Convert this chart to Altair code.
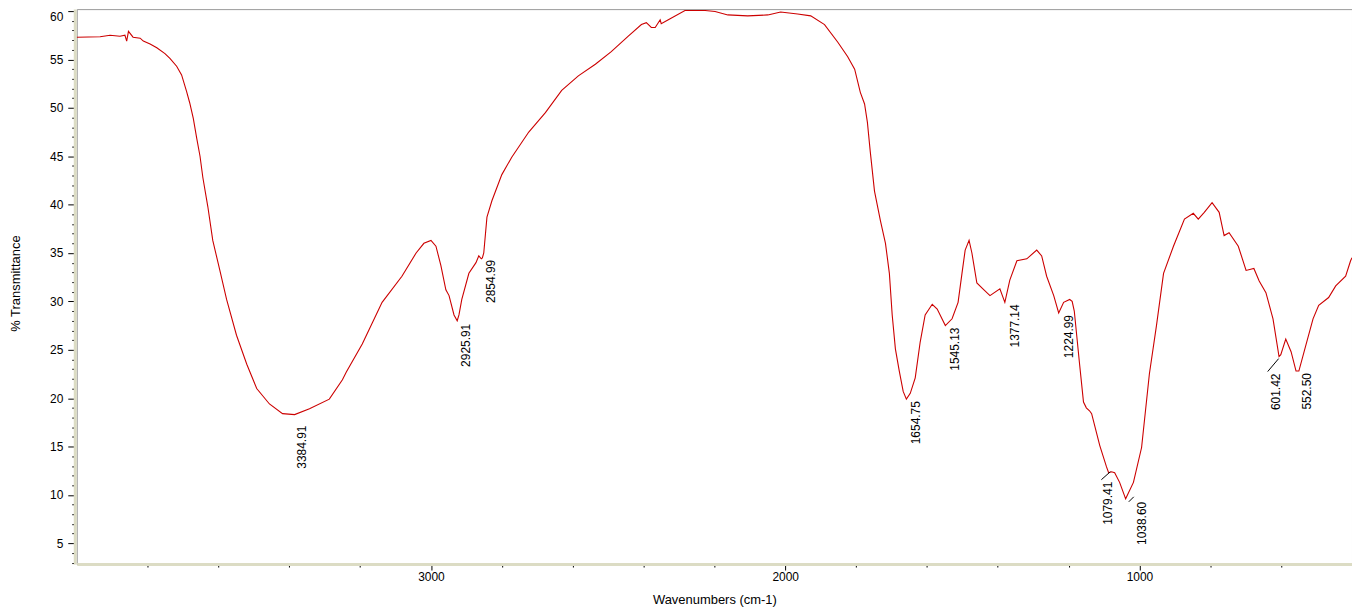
import altair as alt
import pandas as pd

# ---- spectrum ----
wavenumber = [
    4000, 3934, 3906, 3878, 3864, 3859, 3854, 3841, 3821, 3812, 3793, 3774, 3751, 3737,
    3718, 3704, 3690, 3681, 3671, 3661, 3652, 3644, 3630, 3616, 3596, 3577, 3549, 3520,
    3492, 3456, 3419, 3385, 3343, 3287, 3250, 3239, 3194, 3138, 3082, 3042, 3020, 3000,
    2986, 2972, 2958, 2949, 2935, 2926, 2921, 2913, 2893, 2873, 2865, 2858, 2855, 2851,
    2842, 2828, 2800, 2772, 2724, 2677, 2631, 2584, 2536, 2491, 2443, 2406, 2392, 2378,
    2367, 2353, 2350, 2330, 2283, 2226, 2198, 2162, 2106, 2049, 2013, 1965, 1928, 1889,
    1852, 1824, 1804, 1788, 1776, 1768, 1760, 1748, 1731, 1717, 1706, 1698, 1689, 1678,
    1667, 1658, 1647, 1633, 1619, 1605, 1585, 1571, 1548, 1529, 1512, 1501, 1492, 1481,
    1473, 1459, 1439, 1422, 1394, 1380, 1366, 1346, 1318, 1290, 1276, 1262, 1242, 1228,
    1214, 1197, 1190, 1184, 1169, 1158, 1150, 1141, 1135, 1112, 1093, 1087, 1079, 1070,
    1056, 1039, 1017, 994, 972, 952, 932, 904, 873, 848, 834, 817, 795, 775, 761, 747,
    721, 699, 677, 662, 643, 623, 606, 601, 587, 572, 558, 550, 530, 510, 494, 466, 446,
    418, 404, 400,
]
transmittance = [
    57.3, 57.35, 57.5, 57.4, 57.5, 56.9, 57.9, 57.3, 57.2, 56.9, 56.6, 56.2, 55.6, 55.1,
    54.3, 53.4, 51.7, 50.5, 48.9, 46.8, 45.0, 42.8, 39.8, 36.3, 33.2, 30.2, 26.5, 23.5,
    21.0, 19.4, 18.4, 18.3, 18.9, 19.9, 21.9, 22.7, 25.6, 29.9, 32.6, 35.0, 36.0, 36.3,
    35.7, 33.7, 31.2, 30.6, 28.6, 28.0, 28.6, 30.2, 32.9, 34.0, 34.7, 34.4, 34.5, 35.0,
    38.7, 40.4, 43.1, 44.9, 47.5, 49.5, 51.8, 53.3, 54.5, 55.8, 57.4, 58.6, 58.8, 58.3,
    58.3, 59.1, 58.7, 59.1, 60.05, 60.05, 59.95, 59.6, 59.5, 59.6, 59.9, 59.7, 59.5, 58.6,
    56.8, 55.3, 54.0, 51.6, 50.4, 48.5, 45.5, 41.4, 38.3, 36.0, 32.9, 28.6, 25.1, 22.8,
    20.7, 19.9, 20.5, 22.1, 25.8, 28.6, 29.7, 29.2, 27.5, 28.2, 29.9, 32.9, 35.3, 36.3,
    35.0, 31.9, 31.2, 30.6, 31.3, 29.9, 32.2, 34.2, 34.4, 35.3, 34.7, 32.6, 30.6, 28.8,
    29.9, 30.2, 30.0, 29.0, 23.5, 19.6, 19.0, 18.7, 18.4, 15.1, 12.9, 12.3, 12.4, 12.3,
    11.3, 9.6, 11.3, 14.9, 22.5, 27.5, 32.9, 35.7, 38.5, 39.1, 38.5, 39.2, 40.2, 39.2,
    36.8, 37.1, 35.7, 33.2, 33.4, 32.1, 30.9, 28.2, 24.3, 24.5, 26.1, 24.8, 22.8, 22.8,
    25.5, 28.2, 29.6, 30.4, 31.6, 32.6, 34.2, 34.5,
]

# ---- peak annotations ----
peak_labels = ["3384.91", "2925.91", "2854.99", "1654.75", "1545.13", "1377.14",
               "1224.99", "1079.41", "1038.60", "601.42", "552.50"]
peak_wn = [3384.91, 2925.91, 2854.99, 1654.75, 1545.13, 1377.14,
           1224.99, 1079.41, 1038.60, 601.42, 552.50]
peak_t = [18.3, 28.0, 34.5, 19.9, 27.5, 29.9, 28.8, 12.4, 9.6, 24.5, 22.8]

x_ticks = list(range(600, 4000, 200))
y_ticks = list(range(3, 61))

FONT = "Liberation Sans"
RED = "#cc0000"

spec_df = pd.DataFrame({"wn": wavenumber, "t": transmittance})
peak_df = pd.DataFrame({"wn": peak_wn, "t": peak_t, "label": peak_labels})

x_scale = alt.Scale(domain=[400, 4000], reverse=True, nice=False, zero=False)
y_scale = alt.Scale(domain=[2.86, 60.2], nice=False, zero=False)

x_axis = alt.Axis(
    values=x_ticks,
    format="d",
    labelExpr="datum.value % 1000 == 0 ? datum.label : ''",
    tickSize={"condition": {"test": "datum.value % 1000 == 0", "value": 6}, "value": 3},
    labelPadding=2,
    labelOverlap=False,
    titleY=36,
    titleBaseline="middle",
)
y_axis = alt.Axis(
    values=y_ticks,
    labelExpr="datum.value % 5 == 0 ? datum.label : ''",
    tickSize={"condition": {"test": "datum.value % 5 == 0", "value": 7}, "value": 3},
    labelPadding=5,
    labelOverlap=False,
    labelFlush=6,
    offset=2,
    titleAngle=270,
    titleAlign="center",
    titleBaseline="middle",
    titleX=-59,
    titleY=275,
)

X_ENC = alt.X("wn:Q", scale=x_scale, axis=x_axis, title="Wavenumbers (cm-1)")
Y_ENC = alt.Y("t:Q", scale=y_scale, axis=y_axis, title="% Transmittance")

line = alt.Chart(spec_df).mark_line(color=RED, strokeWidth=1.1, clip=True).encode(
    x=X_ENC, y=Y_ENC,
)


def label_layer(names, dx, dy):
    return (
        alt.Chart(peak_df)
        .transform_filter(alt.FieldOneOfPredicate(field="label", oneOf=names))
        .mark_text(angle=270, align="right", baseline="middle", dx=dx, dy=dy,
                   font=FONT, fontSize=12, color="black")
        .encode(x=X_ENC, y=Y_ENC, text="label:N")
    )


def leader(name, xo, yo, x2o, y2o):
    return (
        alt.Chart(peak_df)
        .transform_filter(alt.FieldEqualPredicate(field="label", equal=name))
        .mark_rule(color="black", strokeWidth=1, xOffset=xo, yOffset=yo,
                   x2Offset=x2o, y2Offset=y2o)
        .encode(x=X_ENC, y=Y_ENC, x2="wn:Q", y2="t:Q")
    )


labels_main = label_layer(["2854.99", "1654.75", "1545.13", "1377.14", "1224.99", "552.50"], -2, 9)
labels_a = label_layer(["2925.91"], -3, 9)
labels_b = label_layer(["3384.91"], -11, 7)
labels_c = label_layer(["1079.41"], -10, -3)
labels_d = label_layer(["1038.60"], -3, 16)
labels_e = label_layer(["601.42"], -19, -5)

lead_c = leader("1079.41", -10, 8, -1, 0)
lead_d = leader("1038.60", 3, 3, 8, -2)
lead_e = leader("601.42", -13, 17, -2, 4)

chart = (
    alt.layer(line, labels_main, labels_a, labels_b, labels_c, labels_d, labels_e,
              lead_c, lead_d, lead_e)
    .properties(width=1280, height=557,
                padding={"left": 2, "top": 0, "right": 0, "bottom": 0},
                background="white")
    .configure_view(stroke="#9a9a9a", strokeWidth=1)
    .configure_axis(
        domainColor="#dcdcc4", domainWidth=3, tickColor="black", tickWidth=1,
        labelFont=FONT, labelFontSize=12, labelColor="black",
        titleFont=FONT, titleFontSize=13, titleFontWeight="normal", titleColor="black",
        grid=False,
    )
)

chart.save("out.html", embed_options={"renderer": "svg", "actions": False})
